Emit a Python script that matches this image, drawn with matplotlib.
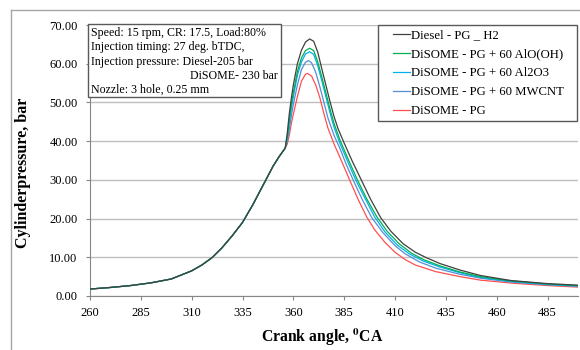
import numpy as np
import matplotlib.pyplot as plt
from matplotlib.lines import Line2D
from matplotlib.ticker import FormatStrFormatter

plt.rcParams['font.family'] = ['Liberation Serif', 'DejaVu Serif']
plt.rcParams['mathtext.fontset'] = 'stix'

# compression part, same for every fuel
ca_comp = [260, 270, 280, 290, 300, 310, 315, 320, 325, 330, 335, 340, 345, 350, 353, 356]
p_comp = [1.8, 2.2, 2.7, 3.4, 4.4, 6.5, 8.0, 9.9, 12.5, 15.6, 19.0, 23.5, 28.5, 33.5, 36.0, 38.2]

ca_diesel = [357, 358, 359, 360, 362, 364, 366, 368, 370, 372, 374, 376, 378, 380, 382, 385, 389,
             393.4, 398, 403, 408, 414, 420, 425, 432, 442, 452, 467, 485, 500]
p_diesel = [42.0, 47.0, 51.0, 54.5, 60.0, 63.5, 65.6, 66.4, 65.8, 63.0, 58.7, 54.5, 50.3, 46.4, 43.2, 39.5, 34.8,
            30.0, 25.0, 20.2, 16.7, 13.5, 11.3, 10.0, 8.4, 6.7, 5.3, 4.0, 3.2, 2.8]

ca_aloh = [357, 358, 359, 360, 362, 364, 366, 368, 370, 372, 374, 376, 378, 380, 383, 387,
           391.5, 396, 401, 406, 412, 418, 424, 432, 442, 452, 467, 485, 500]
p_aloh = [41.0, 45.5, 49.5, 52.5, 58.0, 61.5, 63.4, 64.0, 63.4, 60.5, 56.6, 52.5, 48.4, 44.6, 40.2, 35.3,
          30.0, 25.2, 20.5, 16.8, 13.5, 11.1, 9.4, 7.8, 6.2, 5.0, 3.9, 3.1, 2.7]

ca_al2o3 = [357, 358, 359, 360, 362, 364, 366, 368, 370, 372, 374, 376, 378, 380, 383, 387,
            391, 395.5, 400, 405, 411, 417, 424, 432, 442, 452, 467, 485, 500]
p_al2o3 = [40.5, 44.5, 48.5, 51.5, 57.0, 60.5, 62.5, 63.1, 62.4, 59.5, 55.6, 51.5, 47.4, 43.6, 39.3, 34.4,
           29.6, 25.0, 20.4, 16.6, 13.2, 10.9, 9.0, 7.5, 6.0, 4.8, 3.8, 3.0, 2.6]

ca_mwcnt = [357, 358, 359, 360, 362, 364, 366, 367.5, 369, 371, 373, 375, 377, 380, 383, 386,
            390, 394, 398.5, 404, 410, 415, 422, 430, 442, 452, 467, 485, 500]
p_mwcnt = [40.0, 43.0, 46.5, 49.5, 54.5, 58.5, 60.4, 60.8, 60.2, 57.8, 54.1, 50.1, 46.0, 41.5, 38.0, 34.0,
           29.3, 24.8, 20.3, 16.4, 13.0, 10.9, 8.8, 7.2, 5.6, 4.6, 3.6, 2.9, 2.5]

ca_pg = [357, 358, 359, 360, 362, 364, 366, 367, 369, 371, 373, 375, 377, 380, 384, 388,
         392, 396, 400, 405, 410, 415, 420, 430, 442, 452, 468, 485, 500]
p_pg = [39.2, 41.5, 44.5, 47.0, 51.5, 55.5, 57.3, 57.5, 56.8, 54.5, 51.3, 47.2, 43.4, 39.3, 34.5, 29.6,
        24.8, 20.5, 17.1, 13.9, 11.3, 9.4, 8.0, 6.3, 5.0, 4.1, 3.3, 2.7, 2.3]

labels = ["Diesel - PG _ H2", "DiSOME - PG + 60 AlO(OH)", "DiSOME - PG + 60 Al2O3",
          "DiSOME - PG + 60 MWCNT", "DiSOME - PG"]
colors = ["#404040", "#00B050", "#00B0F0", "#558ED5", "#FF5050"]
series = [(ca_diesel, p_diesel), (ca_aloh, p_aloh), (ca_al2o3, p_al2o3),
          (ca_mwcnt, p_mwcnt), (ca_pg, p_pg)]

W, H = 580, 350
fig = plt.figure(figsize=(W / 100, H / 100), dpi=100)
ax = fig.add_axes([90 / W, 1 - 296 / H, (578 - 90) / W, (296 - 25) / H])

# plot red first so the others sit above it, legend order kept
for i in [4, 3, 2, 1, 0]:
    ca, p = series[i]
    ax.plot(ca_comp + ca, p_comp + p, color=colors[i], lw=0.9, label=labels[i], zorder=3 + (4 - i) * 0.1)

ax.set_xlim(260, 500)
ax.set_ylim(0, 70)
ax.set_xticks(np.arange(260, 500, 25))
ax.set_yticks(np.arange(0, 71, 10))
ax.yaxis.set_major_formatter(FormatStrFormatter('%.2f'))
ax.grid(axis='y', color='#BFBFBF', lw=1.0)
ax.set_axisbelow(True)
for s in ['top', 'right']:
    ax.spines[s].set_visible(False)
for s in ['left', 'bottom']:
    ax.spines[s].set_color('#868686')
ax.tick_params(axis='x', direction='out', length=3, pad=5, color='#868686', labelsize=9)
ax.tick_params(axis='y', direction='out', length=3, pad=6, color='#868686', labelsize=9)

fig.text(322 / W, 1 - 337 / H, r"Crank angle, $^{\mathbf{0}}$CA", ha='center', va='center',
         fontsize=11.3, fontweight='bold')
fig.text(23 / W, 1 - 173 / H, "Cylinderpressure, bar", rotation=90, ha='center', va='center',
         fontsize=11.5, fontweight='bold')

# info box
fig.patches.append(plt.Rectangle((88 / W, 1 - 97 / H), (281 - 88) / W, (97 - 24) / H,
                                 transform=fig.transFigure, fill=True, facecolor='white',
                                 edgecolor='#595959', lw=1.0, zorder=5))
info = ["Speed: 15 rpm, CR: 17.5, Load:80%", "Injection timing: 27 deg. bTDC,",
        "Injection pressure: Diesel-205 bar"]
for k, t in enumerate(info):
    fig.text(91 / W, 1 - (33 + 14.3 * k) / H, t, ha='left', va='center', fontsize=8.6, zorder=6)
fig.text(278 / W, 1 - 76 / H, "DiSOME- 230 bar", ha='right', va='center', fontsize=8.6, zorder=6)
fig.text(91 / W, 1 - 90 / H, "Nozzle: 3 hole, 0.25 mm", ha='left', va='center', fontsize=8.6, zorder=6)

# legend box drawn by hand so the padding can match
ax.add_patch(plt.Rectangle((378 / W, 1 - 121 / H), (577 - 378) / W, (121 - 25) / H,
                           transform=fig.transFigure, facecolor='white', edgecolor='#595959',
                           lw=1.0, zorder=4.5, clip_on=False))
h, l = ax.get_legend_handles_labels()
leg = ax.legend(h[::-1], l[::-1], loc='upper left', bbox_to_anchor=(393 / W, 1 - 29 / H),
                bbox_transform=fig.transFigure, borderaxespad=0, borderpad=0, frameon=False,
                fontsize=9.2, handlelength=1.33, handletextpad=0.05, labelspacing=0.55)
leg.set_zorder(5)

# chart area border
fig.lines.append(Line2D([11 / W, 11 / W], [0, 1 - 10 / H], transform=fig.transFigure, color='#A6A6A6', lw=1))
fig.lines.append(Line2D([11 / W, 1], [1 - 10 / H, 1 - 10 / H], transform=fig.transFigure, color='#A6A6A6', lw=1))

fig.savefig("out.png", dpi=100)
